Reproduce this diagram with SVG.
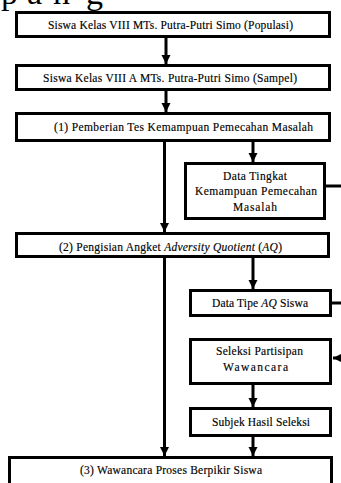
<svg xmlns="http://www.w3.org/2000/svg" width="341" height="483" viewBox="0 0 341 483">
<style>
.box{fill:#fff;stroke:#000;stroke-width:3}
.t{font-family:"Liberation Serif","Times New Roman",serif;font-size:11.5px;fill:#000;stroke:#000;stroke-width:0.15;text-anchor:middle}
.big{font-family:"Liberation Serif","Times New Roman",serif;font-size:34px;fill:#000}
.ln{fill:none;stroke:#000;stroke-width:3}
</style>
<defs>
<marker id="ah" markerUnits="userSpaceOnUse" markerWidth="10" markerHeight="10" refX="9" refY="5" orient="auto">
<path d="M0,0.5 L9,5 L0,9.5 z" fill="#000"/>
</marker>
</defs>
<rect width="341" height="483" fill="#fff"/>
<text class="big"><tspan x="1" y="4">p</tspan><tspan x="27" y="4">a</tspan><tspan x="53" y="4">n</tspan><tspan x="86" y="4">g</tspan></text>
<g id="connectors">
<line class="ln" x1="166" y1="38" x2="166" y2="64" marker-end="url(#ah)"/>
<line class="ln" x1="166" y1="91" x2="166" y2="112" marker-end="url(#ah)"/>
<line class="ln" x1="164.5" y1="142" x2="164.5" y2="232" marker-end="url(#ah)"/>
<line class="ln" x1="253" y1="142" x2="253" y2="162" marker-end="url(#ah)"/>
<line class="ln" x1="326" y1="186" x2="345" y2="186"/>
<line class="ln" x1="164.5" y1="258" x2="164.5" y2="456" marker-end="url(#ah)"/>
<line class="ln" x1="253" y1="258" x2="253" y2="289" marker-end="url(#ah)"/>
<line class="ln" x1="332" y1="303" x2="345" y2="303"/>
<line class="ln" x1="345" y1="358" x2="333" y2="358" marker-end="url(#ah)"/>
<line class="ln" x1="253" y1="385" x2="253" y2="407" marker-end="url(#ah)"/>
<line class="ln" x1="253" y1="437" x2="253" y2="456" marker-end="url(#ah)"/>
</g>
<g id="populasi">
<rect class="box" x="16.5" y="12.5" width="313" height="24"/>
<text class="t" x="170.5" y="28.5" textLength="245" lengthAdjust="spacing">Siswa Kelas VIII MTs. Putra-Putri Simo (Populasi)</text>
</g>
<g id="sampel">
<rect class="box" x="16.5" y="65.5" width="313" height="24"/>
<text class="t" x="170" y="81.5" textLength="254" lengthAdjust="spacing">Siswa Kelas VIII A MTs. Putra-Putri Simo (Sampel)</text>
</g>
<g id="tes">
<rect class="box" x="16.5" y="113.5" width="313" height="27"/>
<text class="t" x="183.5" y="130.5" textLength="259" lengthAdjust="spacing">(1)  Pemberian Tes Kemampuan Pemecahan Masalah</text>
</g>
<g id="data-tingkat">
<rect class="box" x="185.5" y="163.5" width="139" height="55"/>
<text class="t" x="255" y="179.5" textLength="64" lengthAdjust="spacing">Data Tingkat</text>
<text class="t" x="256" y="195" textLength="122" lengthAdjust="spacing">Kemampuan Pemecahan</text>
<text class="t" x="255" y="210.5" textLength="44" lengthAdjust="spacing">Masalah</text>
</g>
<g id="angket">
<rect class="box" x="16.5" y="233.5" width="312" height="23"/>
<text class="t" x="170.5" y="250.5" textLength="223" lengthAdjust="spacing">(2) Pengisian Angket <tspan font-style="italic">Adversity Quotient</tspan> (<tspan font-style="italic">AQ</tspan>)</text>
</g>
<g id="data-tipe">
<rect class="box" x="190.5" y="290.5" width="140" height="25"/>
<text class="t" x="260" y="306.5" textLength="96" lengthAdjust="spacing">Data Tipe <tspan font-style="italic">AQ</tspan> Siswa</text>
</g>
<g id="seleksi">
<rect class="box" x="190.5" y="339.5" width="140" height="44"/>
<text class="t" x="259.5" y="354.5" textLength="87" lengthAdjust="spacing">Seleksi Partisipan</text>
<text class="t" x="255.5" y="370.5" textLength="65" lengthAdjust="spacing">Wawancara</text>
</g>
<g id="subjek">
<rect class="box" x="190.5" y="408.5" width="140" height="27"/>
<text class="t" x="261" y="425.5" textLength="98" lengthAdjust="spacing">Subjek Hasil Seleksi</text>
</g>
<g id="wawancara">
<rect class="box" x="9.5" y="457.5" width="322" height="40"/>
<text class="t" x="171" y="473.5" textLength="182" lengthAdjust="spacing">(3) Wawancara Proses Berpikir Siswa</text>
</g>
</svg>
